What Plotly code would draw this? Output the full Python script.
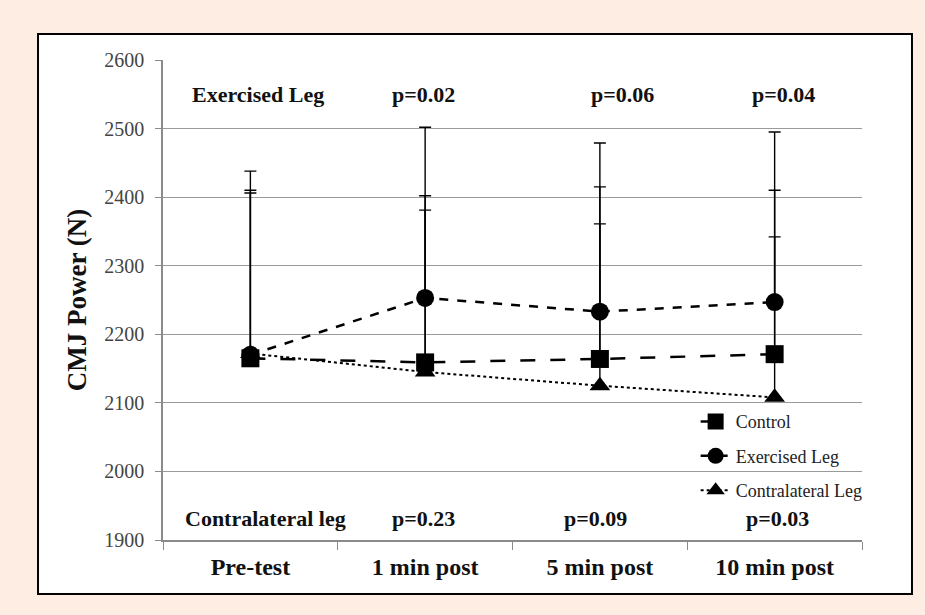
import plotly.graph_objects as go

categories = ["Pre-test", "1 min post", "5 min post", "10 min post"]

control_mean = [2165, 2159, 2164, 2171]
control_sd = [245, 243, 251, 239]

exercised_mean = [2170, 2253, 2233, 2247]
exercised_sd = [268, 249, 246, 248]

contra_mean = [2172, 2145, 2125, 2108]
contra_sd = [234, 236, 236, 234]

zeros = [0, 0, 0, 0]

top_labels = ["Exercised Leg", "p=0.02", "p=0.06", "p=0.04"]
bottom_labels = ["Contralateral leg", "p=0.23", "p=0.09", "p=0.03"]
top_y = 2549
bottom_y = 1932

SERIF = "Liberation Serif, Times New Roman, serif"
PEACH = "#fdede3"

fig = go.Figure()

def add_series(name, y, sd, dash, width, symbol, rank):
    fig.add_trace(go.Scatter(
        x=categories, y=y, name=name, mode="lines+markers",
        legendrank=rank, legendgroup=name,
        line=dict(color="black", dash=dash, width=width),
        marker=dict(symbol=symbol, size=18, color="black"),
        error_y=dict(type="data", symmetric=False, array=sd, arrayminus=zeros,
                     color="black", thickness=1.4, width=6),
    ))

add_series("Contralateral Leg", contra_mean, contra_sd, "dot", 2, "triangle-up", 3)
add_series("Exercised Leg", exercised_mean, exercised_sd, "dash", 2.5, "circle", 2)
add_series("Control", control_mean, control_sd, "longdash", 2.5, "square", 1)

ann_shift_top = [8, -2, 23, 9]
ann_shift_bot = [15, -2, -4, 3]
for cat, txt, dx in zip(categories, top_labels, ann_shift_top):
    fig.add_annotation(x=cat, y=top_y, text=f"<b>{txt}</b>", showarrow=False,
                       xshift=dx, font=dict(family=SERIF, size=22, color="#111"))
for cat, txt, dx in zip(categories, bottom_labels, ann_shift_bot):
    fig.add_annotation(x=cat, y=bottom_y, text=f"<b>{txt}</b>", showarrow=False,
                       xshift=dx, font=dict(family=SERIF, size=22, color="#111"))

# white panel with black border
fig.add_shape(type="rect", xref="paper", yref="paper",
              x0=-0.1788, x1=1.0715, y0=-0.1125, y1=1.054,
              fillcolor="white", line=dict(color="black", width=2), layer="below")

fig.update_layout(
    width=925, height=615,
    margin=dict(l=163, r=63, t=60, b=75),
    paper_bgcolor=PEACH,
    plot_bgcolor="white",
    font=dict(family=SERIF, color="#222"),
    legend=dict(x=0.762, y=0.285, xanchor="left", yanchor="top",
                bgcolor="rgba(0,0,0,0)", font=dict(family=SERIF, size=18, color="#222"),
                tracegroupgap=8, itemwidth=30),
    xaxis=dict(
        type="category", range=[-0.5, 3.5],
        showgrid=False, showline=True, linecolor="#8a8a8a", linewidth=1.5,
        ticks="outside", tickson="boundaries", ticklen=8, tickcolor="#8a8a8a",
        ticklabelstandoff=4,
        tickfont=dict(family=SERIF, size=24, color="#111"),
        tickprefix="<b>", ticksuffix="</b>",
    ),
    yaxis=dict(
        range=[1900, 2600], dtick=100,
        showgrid=True, gridcolor="#9a9a9a", gridwidth=1.3,
        showline=True, linecolor="#8a8a8a", linewidth=1.5,
        ticks="outside", ticklen=6, tickcolor="#8a8a8a",
        ticklabelstandoff=7,
        tickfont=dict(family=SERIF, size=20, color="#444"),
        zeroline=False,
        title=dict(text="<b>CMJ Power (N)</b>", standoff=10,
                   font=dict(family=SERIF, size=27, color="#111")),
    ),
)

fig.write_html(
    "out.html",
    config={"displayModeBar": False},
    post_script=f"document.body.style.margin='0';document.body.style.background='{PEACH}';",
)
